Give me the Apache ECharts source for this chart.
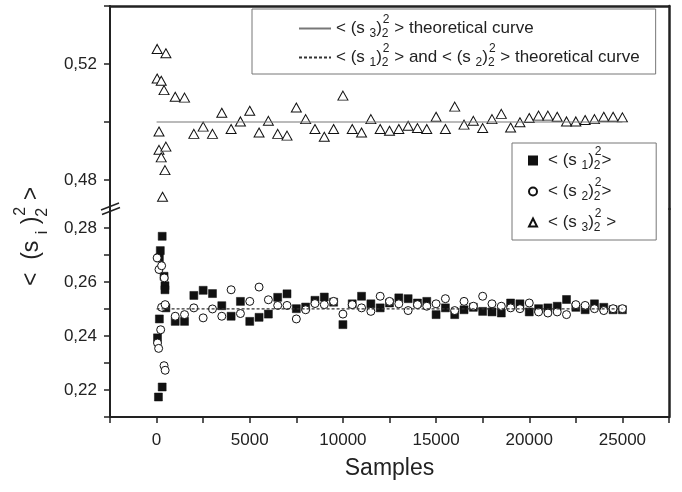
<!DOCTYPE html>
<html><head><meta charset="utf-8">
<script src="https://cdn.jsdelivr.net/npm/echarts@6/dist/echarts.min.js"></script>
<style>html,body{margin:0;padding:0;background:#fff}#c{width:682px;height:492px}</style>
</head><body><div id="c"></div>
<script>
// ---------------- data ----------------
const xMin = -2500, xMax = 27500, xStep = 2500;
const xLabels = [0, 5000, 10000, 15000, 20000, 25000];
const upperTicks = [0.48, 0.50, 0.52, 0.54];
const upperLabels = [0.48, 0.52];
const lowerTicks = [0.21, 0.22, 0.23, 0.24, 0.25, 0.26, 0.27, 0.28];
const lowerLabels = [0.22, 0.24, 0.26, 0.28];

const theoryX = [0, 25000];
const theory3 = [0.50, 0.50];
const theory12 = [0.25, 0.25];

// <(s1)2^2>  (filled squares)
const s1 = [[50,0.2393],[100,0.2174],[150,0.2463],[150,0.2689],[200,0.2716],[300,0.2211],[300,0.2769],[400,0.2621],[450,0.2586],[450,0.2571],[500,0.2504],
  [1000,0.2454],[1500,0.2454],[2000,0.2550],[2500,0.2569],[3000,0.2557],[3500,0.2512],[4000,0.2473],[4500,0.2528],[5000,0.2454],[5500,0.2469],
  [6000,0.2481],[6500,0.2543],[7000,0.2556],[7500,0.2501],[8000,0.2507],[8500,0.2532],[9000,0.2544],[9500,0.2525],[10000,0.2442],[10500,0.2519],
  [11000,0.2547],[11500,0.2519],[12000,0.2504],[12500,0.2522],[13000,0.2541],[13500,0.2538],[14000,0.2522],[14500,0.2528],[15000,0.2479],[15500,0.2504],
  [16000,0.2479],[16500,0.2497],[17000,0.2506],[17500,0.2491],[18000,0.2489],[18500,0.2485],[19000,0.2522],[19500,0.2519],[20000,0.2489],[20500,0.2501],
  [21000,0.2504],[21500,0.2510],[22000,0.2535],[22500,0.2506],[23000,0.2497],[23500,0.2519],[24000,0.2506],[24500,0.2497],[25000,0.2497]];

// <(s2)2^2>  (open circles)
const s2 = [[30,0.2689],[130,0.2646],[270,0.2660],[410,0.2615],[50,0.2374],[110,0.2354],[220,0.2423],[400,0.2290],[460,0.2273],[270,0.2506],[460,0.2516],
  [1000,0.2473],[1500,0.2479],[2000,0.2504],[2500,0.2467],[3000,0.2500],[3500,0.2473],[4000,0.2571],[4500,0.2483],[5000,0.2528],[5500,0.2581],
  [6000,0.2534],[6500,0.2513],[7000,0.2513],[7500,0.2463],[8000,0.2497],[8500,0.2520],[9000,0.2516],[9500,0.2528],[10000,0.2481],[10500,0.2516],
  [11000,0.2504],[11500,0.2491],[12000,0.2547],[12500,0.2528],[13000,0.2519],[13500,0.2494],[14000,0.2516],[14500,0.2510],[15000,0.2519],[15500,0.2538],
  [16000,0.2494],[16500,0.2528],[17000,0.2510],[17500,0.2547],[18000,0.2519],[18500,0.2510],[19000,0.2504],[19500,0.2501],[20000,0.2522],[20500,0.2489],
  [21000,0.2485],[21500,0.2489],[22000,0.2479],[22500,0.2516],[23000,0.2513],[23500,0.2501],[24000,0.2494],[24500,0.2501],[25000,0.2501]];

// <(s3)2^2>  (open triangles)
const s3 = [[30,0.5252],[500,0.5237],[30,0.5150],[250,0.5142],[400,0.5110],[130,0.4967],[130,0.4904],[500,0.4915],[250,0.4878],[450,0.4834],[320,0.4742],
  [1000,0.5087],[1500,0.5084],[2000,0.4959],[2500,0.4984],[3000,0.4959],[3500,0.5032],[4000,0.4976],[4500,0.5002],[5000,0.5039],[5500,0.4964],
  [6000,0.5004],[6500,0.4959],[7000,0.4953],[7500,0.5050],[8000,0.5010],[8500,0.4976],[9000,0.4949],[9500,0.4976],[10000,0.5091],[10500,0.4976],
  [11000,0.4964],[11500,0.5010],[12000,0.4976],[12500,0.4970],[13000,0.4976],[13500,0.4987],[14000,0.4979],[14500,0.4976],[15000,0.5018],[15500,0.4976],
  [16000,0.5053],[16500,0.4991],[17000,0.5004],[17500,0.4979],[18000,0.5010],[18500,0.5028],[19000,0.4981],[19500,0.4999],[20000,0.5014],[20500,0.5022],
  [21000,0.5022],[21500,0.5018],[22000,0.5002],[22500,0.5002],[23000,0.5007],[23500,0.5010],[24000,0.5018],[24500,0.5018],[25000,0.5016]];

// ---------------- chart ----------------
const FONT = "'Liberation Sans', Arial, Helvetica, sans-serif";
const INK = '#222';
const N_T3 = 't3', N_T12 = 't12', N_S1 = 's1', N_S2 = 's2', N_S3 = 's3';
const sq = (i) => '{n|< (s }{sb|' + i + '}{n|)}{st|2}{sp|2}';
const legendText = {
  t3: sq(3) + '{n| > theoretical curve}',
  t12: sq(1) + '{n| > and }' + sq(2) + '{n| > theoretical curve}',
  s1: sq(1) + '{n|>}',
  s2: sq(2) + '{n|>}',
  s3: sq(3) + '{n| >}'
};
const legendRich = {
  n: {fontSize: 17, lineHeight: 29, fontFamily: FONT, color: INK, align: 'left'},
  sb: {fontSize: 12, lineHeight: 12, verticalAlign: 'bottom', padding: [0, 0, 3, 0], fontFamily: FONT, color: INK, align: 'left'},
  st: {fontSize: 12, lineHeight: 12, verticalAlign: 'bottom', padding: [0, 0, 3, 0], width: 1, fontFamily: FONT, color: INK, align: 'left'},
  sp: {fontSize: 12, lineHeight: 12, verticalAlign: 'top', fontFamily: FONT, color: INK, align: 'left'}
};
const comma = v => Number(v).toFixed(2).replace('.', ',');

const chart = echarts.init(document.getElementById('c'), null, {renderer: 'canvas'});
const axisLineStyle = {color: INK, width: 2};
const frameStyle = {color: INK, width: 2.5};

chart.setOption({
  animation: false,
  backgroundColor: '#fff',
  grid: [
    {left: 110, right: 13, top: 6, height: 203},
    {left: 110, right: 13, top: 209, bottom: 75}
  ],
  xAxis: [
    {gridIndex: 0, type: 'value', min: xMin, max: xMax, interval: xStep, position: 'top',
     axisLine: {show: true, onZero: false, lineStyle: frameStyle}, axisTick: {show: false}, axisLabel: {show: false}, splitLine: {show: false}},
    {gridIndex: 1, type: 'value', min: xMin, max: xMax, interval: xStep, position: 'bottom',
     axisLine: {show: true, onZero: false, lineStyle: axisLineStyle},
     axisTick: {show: true, length: 6, lineStyle: {color: INK, width: 1.5}},
     axisLabel: {show: true, customValues: xLabels, margin: 15, fontSize: 17, fontFamily: FONT, color: INK,
       formatter: v => (xLabels.indexOf(v) >= 0 ? String(v) : '')},
     splitLine: {show: false},
     name: 'Samples', nameLocation: 'middle', nameGap: 40,
     nameTextStyle: {fontSize: 23, fontFamily: FONT, color: INK}}
  ],
  yAxis: [
    {gridIndex: 0, type: 'value', min: 0.47, max: 0.54, position: 'left',
     axisLine: {show: true, onZero: false, lineStyle: axisLineStyle},
     axisTick: {show: true, length: 6, customValues: upperTicks, lineStyle: {color: INK, width: 1.5}},
     axisLabel: {show: true, customValues: upperLabels, margin: 13, fontSize: 17, fontFamily: FONT, color: INK, formatter: comma},
     splitLine: {show: false}},
    {gridIndex: 0, type: 'value', min: 0.47, max: 0.54, position: 'right',
     axisLine: {show: true, onZero: false, lineStyle: frameStyle}, axisTick: {show: false}, axisLabel: {show: false}, splitLine: {show: false}},
    {gridIndex: 1, type: 'value', min: 0.21, max: 0.287, position: 'left',
     axisLine: {show: true, onZero: false, lineStyle: axisLineStyle},
     axisTick: {show: true, length: 6, customValues: lowerTicks, lineStyle: {color: INK, width: 1.5}},
     axisLabel: {show: true, customValues: lowerLabels, margin: 13, fontSize: 17, fontFamily: FONT, color: INK, formatter: comma},
     splitLine: {show: false}},
    {gridIndex: 1, type: 'value', min: 0.21, max: 0.287, position: 'right',
     axisLine: {show: true, onZero: false, lineStyle: frameStyle}, axisTick: {show: false}, axisLabel: {show: false}, splitLine: {show: false}}
  ],
  legend: [
    {data: [N_T3, N_T12], orient: 'vertical', left: 252, top: 9, itemWidth: 32, itemHeight: 12, itemGap: 0,
     padding: [5, 16, 2, 46], borderColor: '#777', borderWidth: 1, selectedMode: false,
     itemStyle: {opacity: 0},
     formatter: n => legendText[n], textStyle: {fontSize: 17, fontFamily: FONT, color: INK, rich: legendRich}},
    {data: [N_S1, N_S2, N_S3], orient: 'vertical', left: 512, top: 143, itemWidth: 8, itemHeight: 8, itemGap: 2,
     padding: [3, 40, 3, 16], borderColor: '#777', borderWidth: 1, selectedMode: false,
     formatter: n => legendText[n], textStyle: {fontSize: 17, fontFamily: FONT, color: INK, rich: legendRich, padding: [0, 0, 0, 6]}}
  ],
  graphic: [
    {type: 'text', x: 32, y: 286, rotation: Math.PI / 2, z: 10,
     style: {text: '{n|<  (s }{sb|i}{n| )}{st|2}{sp|2}{n| >}', align: 'left', verticalAlign: 'middle', fill: INK,
       rich: {
         n: {fontSize: 23, lineHeight: 38, fontFamily: FONT, fill: INK, align: 'left'},
         sb: {fontSize: 16, lineHeight: 16, verticalAlign: 'bottom', fontFamily: FONT, fill: INK, align: 'left'},
         st: {fontSize: 16, lineHeight: 16, verticalAlign: 'bottom', width: 1, fontFamily: FONT, fill: INK, align: 'left'},
         sp: {fontSize: 16, lineHeight: 16, verticalAlign: 'top', fontFamily: FONT, fill: INK, align: 'left'}
       }}},
    {type: 'line', z: 10, shape: {x1: 101, y1: 210, x2: 119, y2: 203}, style: {stroke: INK, lineWidth: 1.5}},
    {type: 'line', z: 10, shape: {x1: 102, y1: 214.5, x2: 120, y2: 207.5}, style: {stroke: INK, lineWidth: 1.5}}
  ],
  series: [
    {name: N_T3, type: 'line', xAxisIndex: 0, yAxisIndex: 0, symbol: 'none',
     data: theoryX.map((x, i) => [x, theory3[i]]), lineStyle: {color: '#777', width: 1.2}, itemStyle: {color: '#777'}},
    {name: N_T12, type: 'line', xAxisIndex: 1, yAxisIndex: 2, symbol: 'none',
     data: theoryX.map((x, i) => [x, theory12[i]]), lineStyle: {color: '#333', width: 1.2, type: [3, 2]}, itemStyle: {color: '#333'}},
    {name: N_S1, type: 'scatter', xAxisIndex: 1, yAxisIndex: 2, symbol: 'rect', symbolSize: 8,
     data: s1, itemStyle: {color: '#111', borderColor: '#111', borderWidth: 0.5, opacity: 1}},
    {name: N_S2, type: 'scatter', xAxisIndex: 1, yAxisIndex: 2, symbol: 'circle', symbolSize: 8,
     data: s2, itemStyle: {color: '#fff', borderColor: '#111', borderWidth: 1, opacity: 1}},
    {name: N_S3, type: 'scatter', xAxisIndex: 0, yAxisIndex: 0, symbol: 'triangle', symbolSize: [10, 9],
     data: s3, itemStyle: {color: '#fff', borderColor: '#111', borderWidth: 1, opacity: 1}}
  ]
});
</script>
</body></html>
